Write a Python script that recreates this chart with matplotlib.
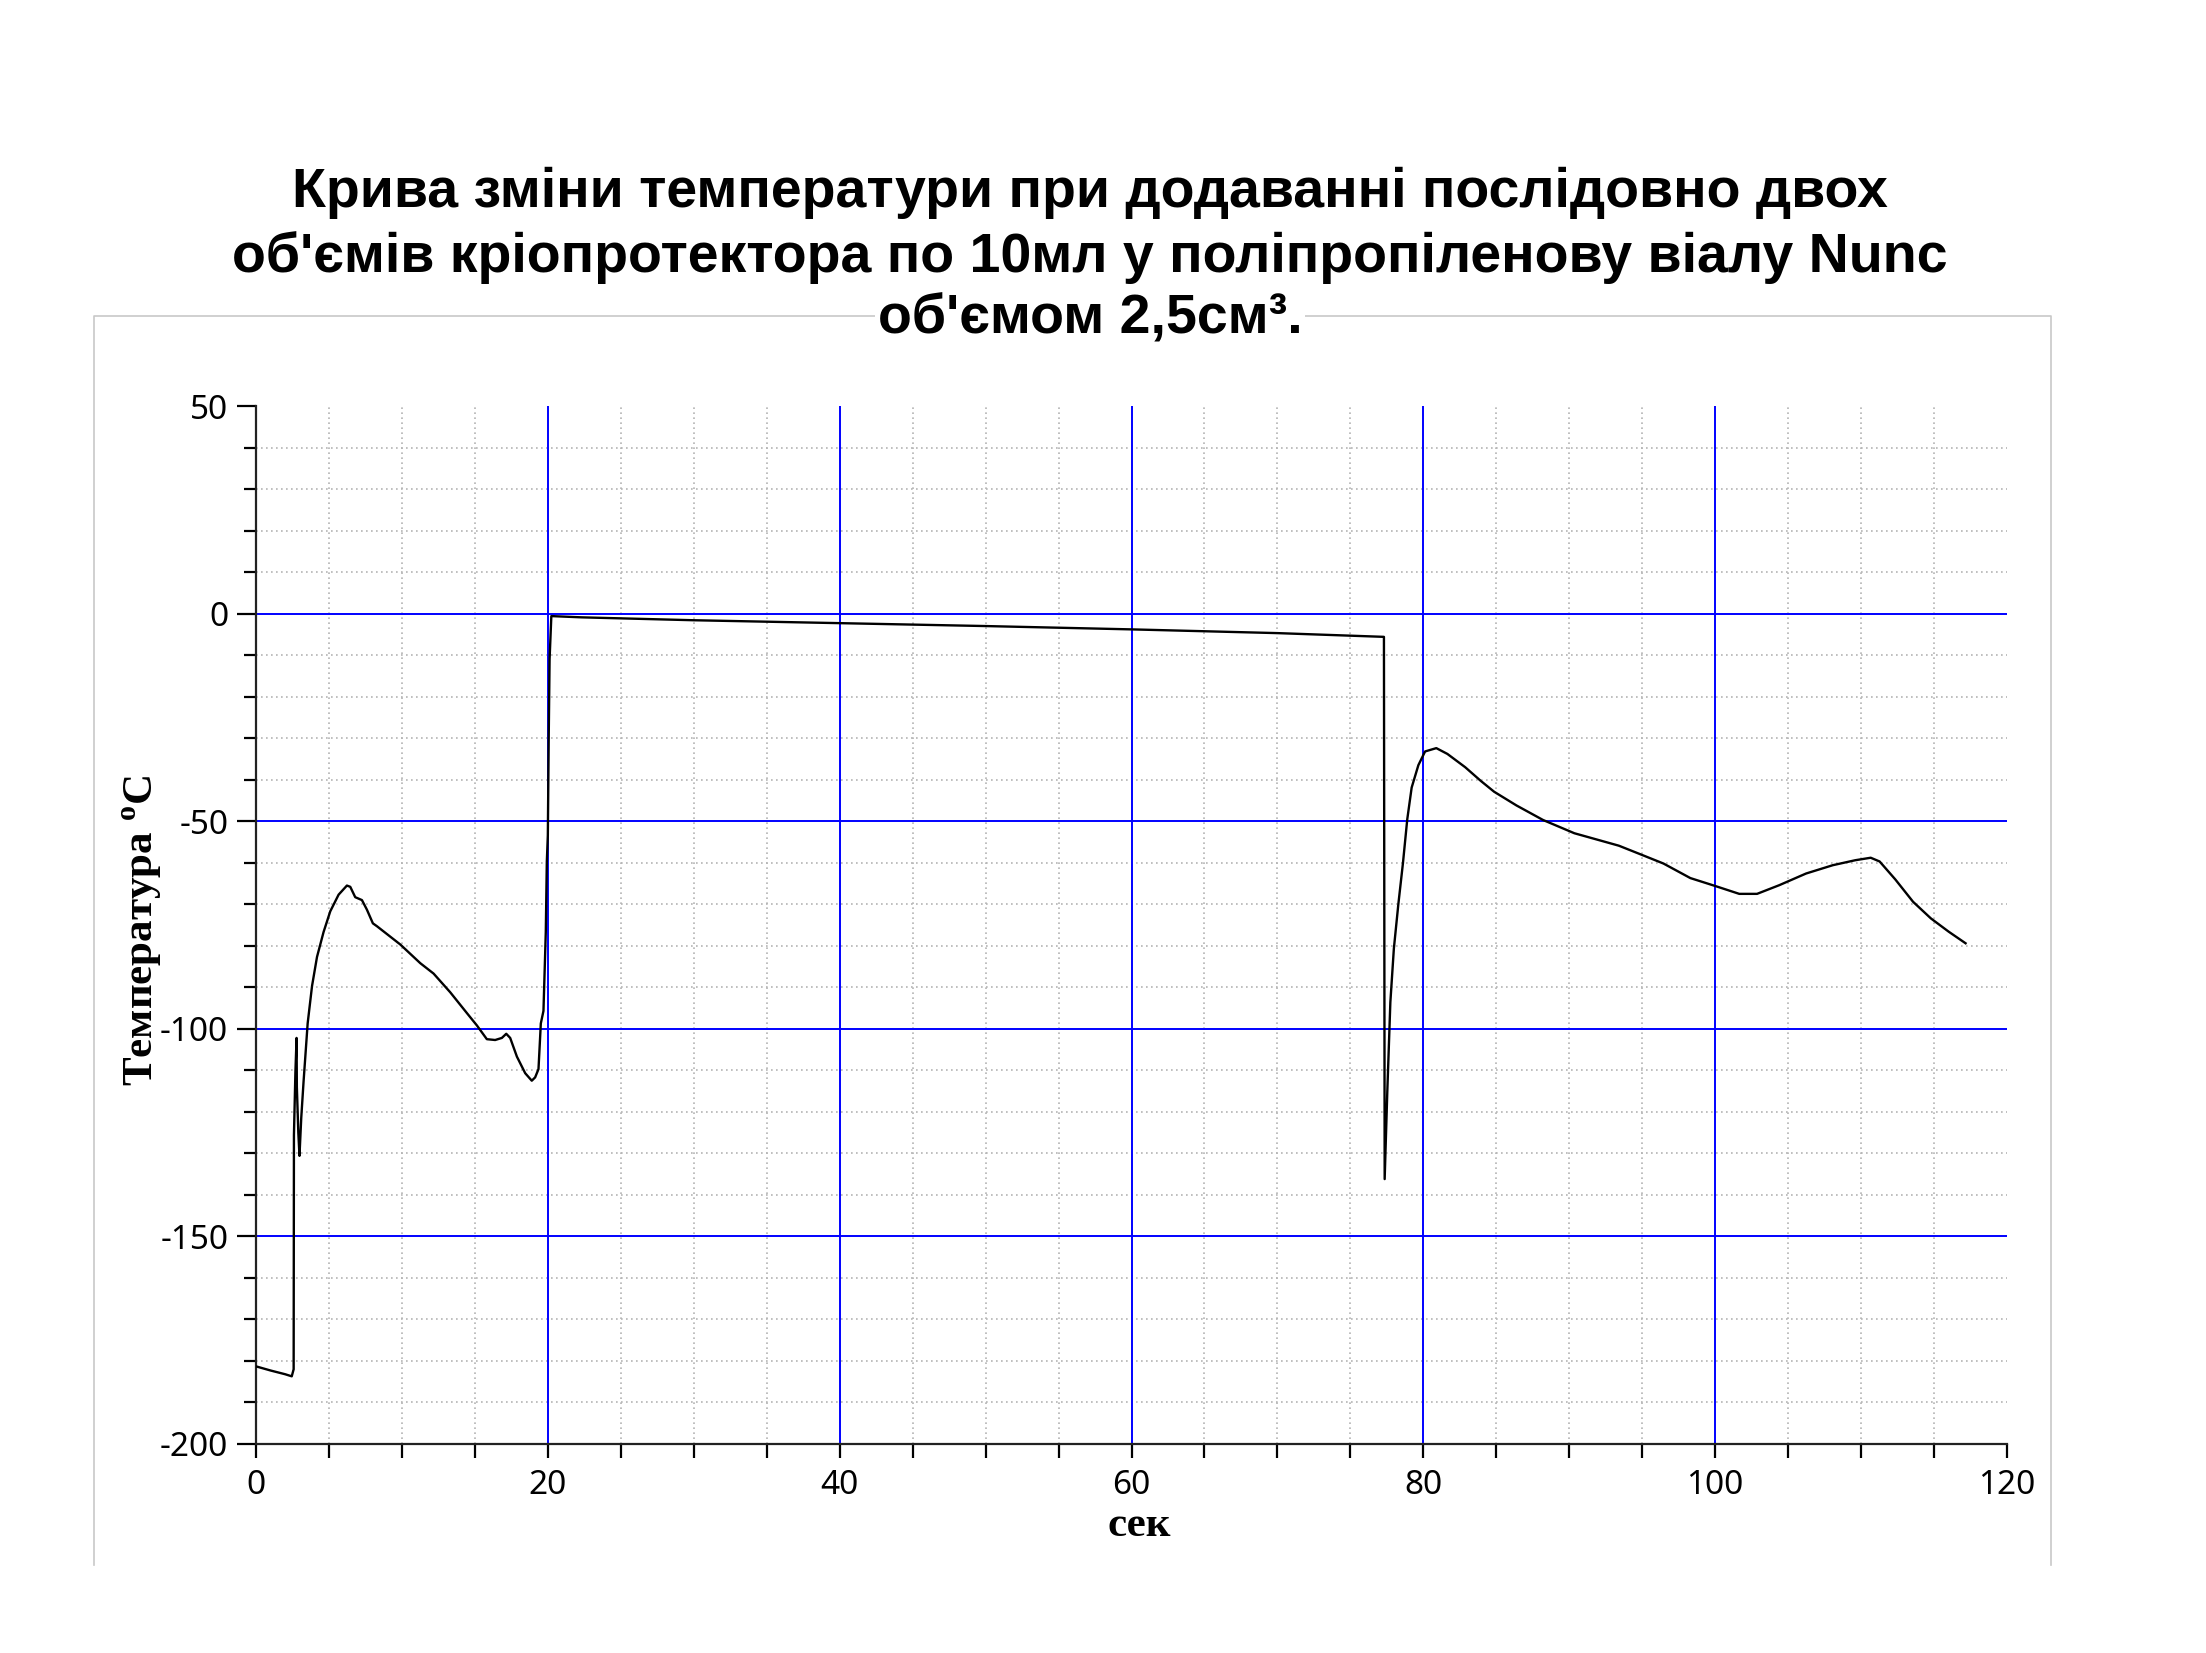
import matplotlib
matplotlib.use("Agg")
import matplotlib.pyplot as plt
from matplotlib.lines import Line2D
import numpy as np

plt.rcParams['mathtext.fontset'] = 'custom'
plt.rcParams['mathtext.rm'] = 'Liberation Serif:bold'
plt.rcParams['mathtext.bf'] = 'Liberation Serif:bold'
plt.rcParams['axes.unicode_minus'] = False

# first part: vial in liquid nitrogen, first addition, second addition
t1 = [0.0, 1.0, 2.0, 2.45, 2.58, 2.6, 2.7, 2.78, 2.8, 2.9, 2.98, 3.1, 3.26, 3.54,
      3.84, 4.18, 4.63, 5.09, 5.66, 6.23, 6.46, 6.8, 7.26, 7.6, 8.01, 8.29, 9.89,
      11.26, 12.17, 13.31, 14.45, 15.14, 15.82, 16.39, 16.85, 17.15, 17.42, 17.88,
      18.45, 18.9, 19.13, 19.36, 19.52, 19.7, 19.86, 19.93, 20.0, 20.06, 20.12, 20.24]
temp1 = [-181.3, -182.3, -183.2, -183.7, -182.0, -125.6, -110.5, -102.2, -114.0,
         -125.0, -130.6, -121.5, -112.7, -98.7, -89.7, -82.7, -76.7, -71.7, -67.7,
         -65.5, -65.8, -68.3, -69.0, -71.3, -74.6, -75.3, -79.7, -84.2, -86.7, -91.2,
         -96.2, -99.2, -102.5, -102.7, -102.2, -101.2, -102.2, -106.7, -110.7, -112.5,
         -111.7, -109.7, -98.7, -95.7, -76.7, -59.8, -53.4, -30.0, -11.0, -0.6]

# plateau near 0 until the second addition
t2 = [22.3, 30.0, 40.0, 50.0, 60.0, 70.0, 77.3]
temp2 = [-0.9, -1.6, -2.3, -3.0, -3.8, -4.7, -5.6]

# second addition
t3 = [77.35, 77.53, 77.74, 77.98, 78.29, 78.6, 78.9, 79.2, 79.66, 80.12, 80.89,
      81.65, 82.87, 83.94, 84.85, 86.38, 88.2, 90.35, 93.4, 94.9, 96.46, 98.3, 100.0,
      101.65, 102.87, 104.4, 106.23, 108.06, 109.6, 110.66, 111.27, 112.34, 113.56,
      114.78, 116.0, 117.16]
temp3 = [-136.2, -115.2, -93.6, -80.7, -69.9, -60.2, -49.5, -41.9, -36.5, -33.2, -32.4,
         -33.8, -37.0, -40.3, -42.9, -46.2, -49.7, -52.9, -55.9, -58.0, -60.2, -63.7,
         -65.6, -67.5, -67.5, -65.4, -62.6, -60.6, -59.4, -58.8, -59.7, -64.0, -69.4,
         -73.4, -76.6, -79.4]

time = t1 + t2 + t3
temperature = temp1 + temp2 + temp3

title_lines = ["Крива зміни температури при додаванні послідовно двох",
               "об'ємів кріопротектора по 10мл у поліпропіленову віалу Nunc",
               "об'ємом 2,5см³."]

fig = plt.figure(figsize=(22.06, 16.53), dpi=100)
W, H = 2206, 1653

# light frame around the chart (no bottom edge)
fx0, fx1 = 94 / W, 2051 / W
fy0, fy1 = 1 - 1565 / H, 1 - 316 / H
fig.add_artist(Line2D([fx0, fx0, fx1, fx1], [fy0, fy1, fy1, fy0],
                      transform=fig.transFigure, color='#c8c8c8', lw=1.2))

ax = fig.add_axes([256 / W, 1 - 1444 / H, (2007 - 256) / W, (1444 - 406) / H])
ax.set_xlim(0, 120)
ax.set_ylim(-200, 50)

ax.set_xticks(np.arange(0, 121, 20))
ax.set_xticks(np.arange(0, 121, 5), minor=True)
ax.set_yticks(np.arange(-200, 51, 50))
ax.set_yticks(np.arange(-200, 51, 10), minor=True)

ax.grid(which='minor', color='#b4b4b4', linestyle=(0, (1, 2)), linewidth=1.2)
for gx in np.arange(20, 101, 20):
    ax.axvline(gx, color='#0000ff', lw=1.4, zorder=2)
for gy in np.arange(-150, 1, 50):
    ax.axhline(gy, color='#0000ff', lw=1.4, zorder=2)

ax.plot(time, temperature, color='black', lw=1.7, zorder=3)

for s in ['top', 'right']:
    ax.spines[s].set_visible(False)
for s in ['left', 'bottom']:
    ax.spines[s].set_linewidth(1.6)
    ax.spines[s].set_color('#222222')

ax.tick_params(axis='y', which='major', length=14, width=1.6, pad=6)
ax.tick_params(axis='y', which='minor', length=9, width=1.6)
ax.tick_params(axis='x', which='both', length=10, width=1.6, pad=8)
for lab in ax.get_xticklabels() + ax.get_yticklabels():
    lab.set_fontfamily('Noto Sans')
    lab.set_fontsize(24)

fig.text(142 / W, 1 - 930 / H, 'Температура $^{\\mathbf{o}}$C', rotation=90,
         ha='center', va='center', family='Liberation Serif', weight='bold', fontsize=31)
fig.text(1139 / W, 1 - 1526 / H, 'сек', ha='center', va='center',
         family='Liberation Serif', weight='bold', fontsize=31)

ty = [193, 258, 320]
for line, yy in zip(title_lines, ty):
    kw = {}
    if yy == ty[-1]:
        kw['bbox'] = dict(facecolor='white', edgecolor='none', pad=2)
    fig.text(1090 / W, 1 - yy / H, line, ha='center', va='center',
             family='Liberation Sans', weight='bold', fontsize=40, **kw)

fig.savefig('out.png', dpi=100)
